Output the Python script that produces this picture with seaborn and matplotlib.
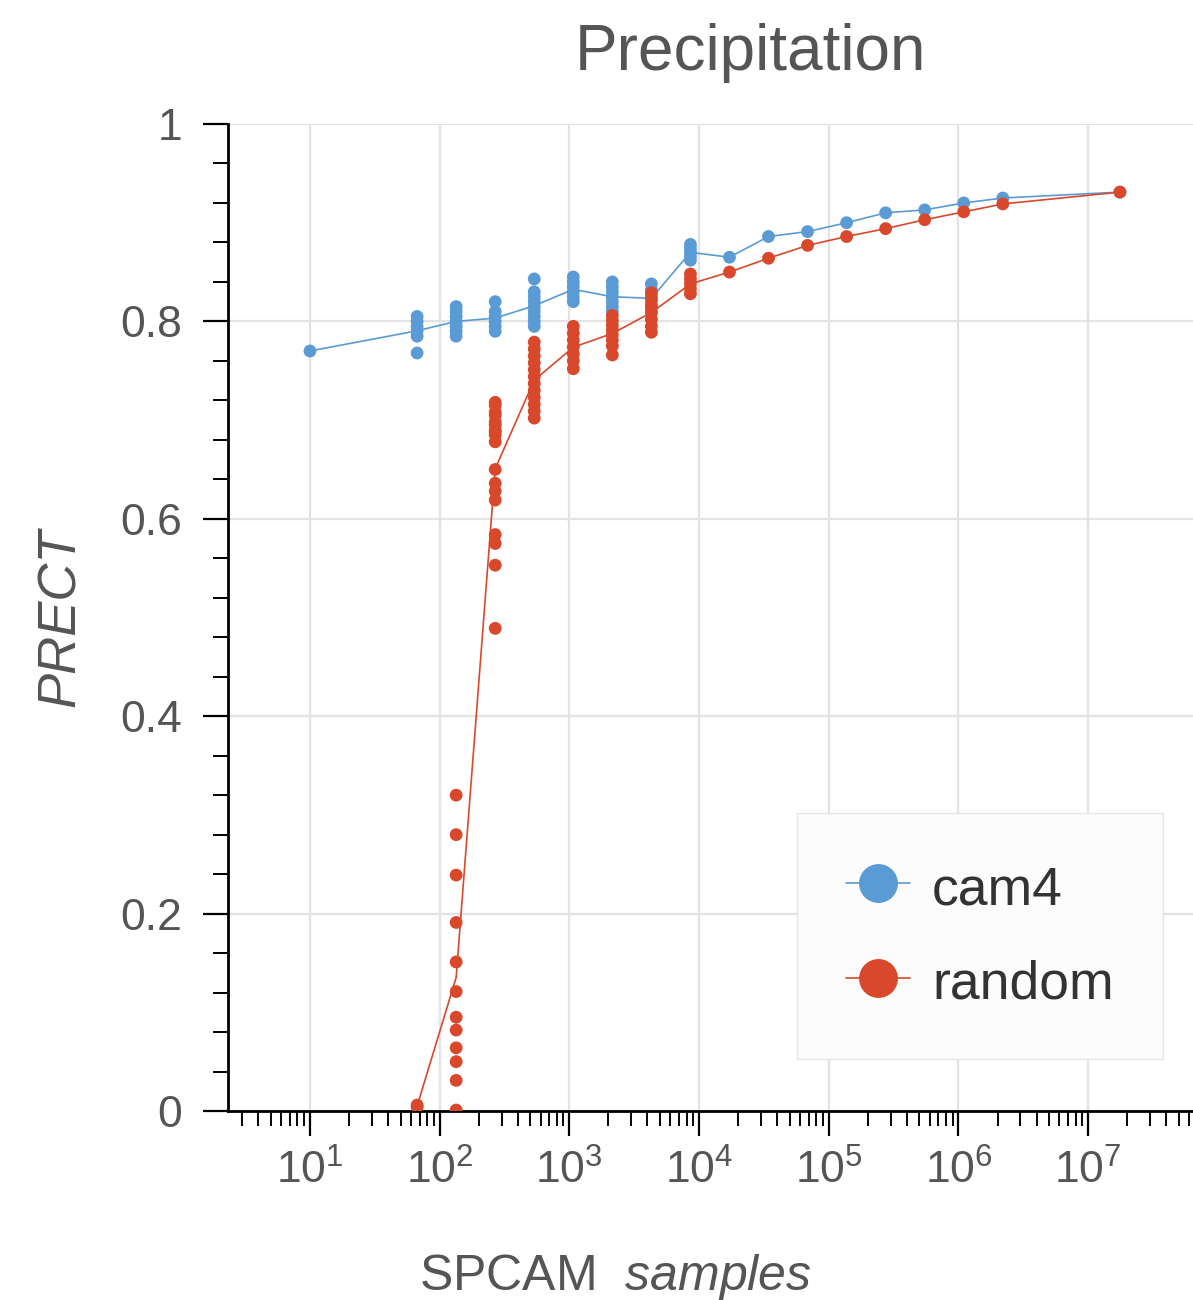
import numpy as np
import pandas as pd
import matplotlib
matplotlib.use("Agg")
import matplotlib.pyplot as plt
import matplotlib.ticker as mticker
from matplotlib.lines import Line2D
import seaborn as sns

# ---------------- data ----------------
methods = ["cam4", "random"]
colors = {"cam4": "#5b9bd5", "random": "#d9482b"}

cam4_samples = [10, 67, 134, 268, 536, 1072, 2144, 4288, 8576, 17152, 34304,
                68608, 137216, 274432, 548864, 1097728, 2195456, 17563648]
cam4_values = [
    [0.770],
    [0.805, 0.800, 0.795, 0.790, 0.785, 0.768],
    [0.815, 0.810, 0.805, 0.800, 0.795, 0.790, 0.785],
    [0.820, 0.810, 0.805, 0.800, 0.795, 0.790],
    [0.843, 0.830, 0.825, 0.820, 0.815, 0.810, 0.805, 0.800, 0.795],
    [0.845, 0.840, 0.835, 0.830, 0.825, 0.820],
    [0.840, 0.835, 0.830, 0.825, 0.820, 0.815, 0.810],
    [0.838, 0.832, 0.826, 0.820, 0.814, 0.810],
    [0.878, 0.874, 0.870, 0.866, 0.862],
    [0.865],
    [0.886],
    [0.891],
    [0.900],
    [0.910],
    [0.913],
    [0.920],
    [0.925],
    [0.931],
]

random_samples = [67, 134, 268, 536, 1072, 2144, 4288, 8576, 17152, 34304,
                  68608, 137216, 274432, 548864, 1097728, 2195456, 17563648]
random_values = [
    [0.006, 0.004],
    [0.320, 0.280, 0.239, 0.191, 0.151, 0.121, 0.095, 0.082, 0.064, 0.050,
     0.031, 0.001],
    [0.718, 0.715, 0.708, 0.705, 0.698, 0.695, 0.690, 0.688, 0.685, 0.678,
     0.650, 0.636, 0.628, 0.619, 0.584, 0.575, 0.553, 0.489],
    [0.702, 0.709, 0.716, 0.723, 0.730, 0.737, 0.744, 0.751, 0.758, 0.765,
     0.772, 0.779],
    [0.752, 0.760, 0.767, 0.774, 0.781, 0.788, 0.795],
    [0.806, 0.801, 0.796, 0.791, 0.786, 0.781, 0.775, 0.766],
    [0.829, 0.823, 0.816, 0.809, 0.802, 0.795, 0.789],
    [0.848, 0.843, 0.838, 0.833, 0.828],
    [0.850],
    [0.864],
    [0.877],
    [0.886],
    [0.894],
    [0.903],
    [0.911],
    [0.919],
    [0.931],
]

y_ticks = [0, 0.2, 0.4, 0.6, 0.8, 1]

rows = []
for s, vals in zip(cam4_samples, cam4_values):
    for v in vals:
        rows.append({"samples": s, "PRECT": v, "method": "cam4"})
for s, vals in zip(random_samples, random_values):
    for v in vals:
        rows.append({"samples": s, "PRECT": v, "method": "random"})
df = pd.DataFrame(rows)

# ---------------- style ----------------
sns.set_style("ticks")
plt.rcParams["font.family"] = ["Liberation Sans", "DejaVu Sans"]
plt.rcParams["mathtext.fontset"] = "custom"
plt.rcParams["mathtext.rm"] = "Liberation Sans"
plt.rcParams["mathtext.it"] = "Liberation Sans:italic"
plt.rcParams["mathtext.bf"] = "Liberation Sans:bold"

text_gray = "#555555"

fig = plt.figure(figsize=(11.93, 13.0), dpi=100)
ax = fig.add_axes([228 / 1193, 189 / 1300, 1 - 228 / 1193, 987 / 1300])

sns.lineplot(data=df, x="samples", y="PRECT", hue="method", hue_order=methods,
             palette=colors, estimator="mean", errorbar=None, linewidth=1.2,
             legend=False, ax=ax, zorder=2)
sns.scatterplot(data=df, x="samples", y="PRECT", hue="method", hue_order=methods,
                palette=colors, s=85, linewidth=0, legend=False, ax=ax, zorder=3)

ax.set_xscale("log")
ax.set_xlim(10 ** 0.368, 10 ** 7.808)
ax.set_ylim(0, 1)

ax.xaxis.set_major_locator(mticker.LogLocator(base=10, numticks=20))
ax.xaxis.set_minor_locator(mticker.LogLocator(base=10, subs=np.arange(2, 10), numticks=200))
ax.xaxis.set_minor_formatter(mticker.NullFormatter())
ax.set_yticks(y_ticks)
ax.yaxis.set_major_formatter(mticker.FuncFormatter(lambda v, p: f"{v:g}"))
ax.yaxis.set_minor_locator(mticker.MultipleLocator(0.04))

ax.grid(True, which="major", color="#e3e3e3", linewidth=1.6)
ax.set_axisbelow(True)

for side in ["top", "right"]:
    ax.spines[side].set_visible(False)
for side in ["left", "bottom"]:
    ax.spines[side].set_color("black")
    ax.spines[side].set_linewidth(2.0)

ax.tick_params(axis="both", which="major", direction="out", length=18, width=1.6,
               color="black", labelsize=32, labelcolor=text_gray)
ax.tick_params(axis="both", which="minor", direction="out", length=11, width=1.4,
               color="black")
ax.tick_params(axis="y", which="major", pad=15)
ax.tick_params(axis="x", which="major", pad=10)

ax.set_title("Precipitation", fontsize=46, color=text_gray, x=0.541, pad=39)
ax.set_xlabel(r"SPCAM  $\mathit{samples}$", fontsize=36, color=text_gray)
ax.xaxis.set_label_coords(0.401, -0.143)
ax.set_ylabel("PRECT", fontsize=38, color=text_gray, fontstyle="italic")
ax.yaxis.set_label_coords(-0.147, 0.5)

handles = [Line2D([0], [0], color=colors[m], linewidth=1.2, marker="o",
                  markersize=28, markeredgewidth=0) for m in methods]
leg = ax.legend(handles, methods, loc="upper left", bbox_to_anchor=(0.5896, 0.302),
                frameon=True, fancybox=False, edgecolor="#e6e6e6", facecolor="#fcfcfc",
                framealpha=1, fontsize=38.5, handlelength=1.2, handleheight=1.0,
                handletextpad=0.41, labelspacing=0.77, borderpad=0.92, borderaxespad=0)
leg.get_frame().set_linewidth(1.0)
for t in leg.get_texts():
    t.set_color("#333333")

fig.savefig("out.png", dpi=100)
